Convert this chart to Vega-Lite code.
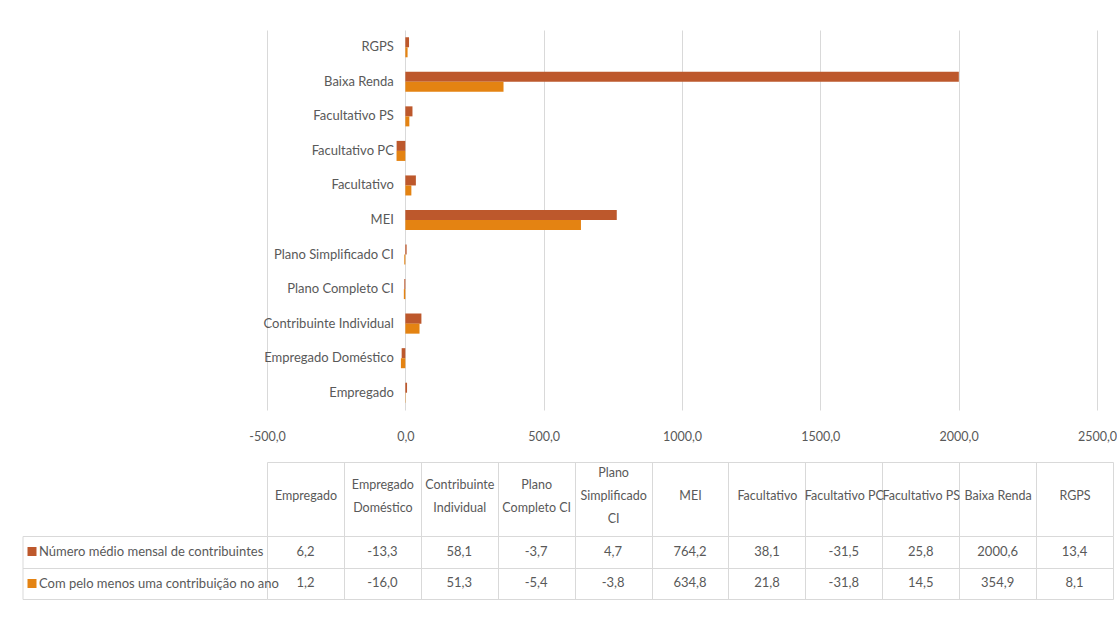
{
  "$schema": "https://vega.github.io/schema/vega-lite/v6.json",
  "background": "white",
  "padding": {"left": 22, "top": 30, "right": 0, "bottom": 0},
  "spacing": 18,
  "datasets": {
    "dados": [
      {"categoria": "Empregado", "serie": "Número médio mensal de contribuintes", "valor": 6.2},
      {"categoria": "Empregado", "serie": "Com pelo menos uma contribuição no ano", "valor": 1.2},
      {"categoria": "Empregado Doméstico", "serie": "Número médio mensal de contribuintes", "valor": -13.3},
      {"categoria": "Empregado Doméstico", "serie": "Com pelo menos uma contribuição no ano", "valor": -16.0},
      {"categoria": "Contribuinte Individual", "serie": "Número médio mensal de contribuintes", "valor": 58.1},
      {"categoria": "Contribuinte Individual", "serie": "Com pelo menos uma contribuição no ano", "valor": 51.3},
      {"categoria": "Plano Completo CI", "serie": "Número médio mensal de contribuintes", "valor": -3.7},
      {"categoria": "Plano Completo CI", "serie": "Com pelo menos uma contribuição no ano", "valor": -5.4},
      {"categoria": "Plano Simplificado CI", "serie": "Número médio mensal de contribuintes", "valor": 4.7},
      {"categoria": "Plano Simplificado CI", "serie": "Com pelo menos uma contribuição no ano", "valor": -3.8},
      {"categoria": "MEI", "serie": "Número médio mensal de contribuintes", "valor": 764.2},
      {"categoria": "MEI", "serie": "Com pelo menos uma contribuição no ano", "valor": 634.8},
      {"categoria": "Facultativo", "serie": "Número médio mensal de contribuintes", "valor": 38.1},
      {"categoria": "Facultativo", "serie": "Com pelo menos uma contribuição no ano", "valor": 21.8},
      {"categoria": "Facultativo PC", "serie": "Número médio mensal de contribuintes", "valor": -31.5},
      {"categoria": "Facultativo PC", "serie": "Com pelo menos uma contribuição no ano", "valor": -31.8},
      {"categoria": "Facultativo PS", "serie": "Número médio mensal de contribuintes", "valor": 25.8},
      {"categoria": "Facultativo PS", "serie": "Com pelo menos uma contribuição no ano", "valor": 14.5},
      {"categoria": "Baixa Renda", "serie": "Número médio mensal de contribuintes", "valor": 2000.6},
      {"categoria": "Baixa Renda", "serie": "Com pelo menos uma contribuição no ano", "valor": 354.9},
      {"categoria": "RGPS", "serie": "Número médio mensal de contribuintes", "valor": 13.4},
      {"categoria": "RGPS", "serie": "Com pelo menos uma contribuição no ano", "valor": 8.1}
    ]
  },
  "vconcat": [
    {
      "width": 830,
      "height": 380,
      "data": {"name": "dados"},
      "mark": {"type": "bar"},
      "encoding": {
        "y": {
          "field": "categoria", "type": "nominal",
          "sort": ["RGPS", "Baixa Renda", "Facultativo PS", "Facultativo PC", "Facultativo", "MEI", "Plano Simplificado CI", "Plano Completo CI", "Contribuinte Individual", "Empregado Doméstico", "Empregado"],
          "scale": {"paddingInner": 0.42, "paddingOuter": 0.21},
          "axis": {"title": null, "domain": false, "ticks": false, "grid": false, "offset": -138.33, "labelPadding": 12, "labelFontSize": 13, "labelLimit": 300}
        },
        "yOffset": {
          "field": "serie", "type": "nominal",
          "sort": ["Número médio mensal de contribuintes", "Com pelo menos uma contribuição no ano"],
          "scale": {"paddingInner": 0, "paddingOuter": 0}
        },
        "x": {
          "field": "valor", "type": "quantitative",
          "scale": {"domain": [-500, 2500], "nice": false, "zero": false},
          "axis": {"title": null, "values": [-500, 0, 500, 1000, 1500, 2000, 2500], "format": ".1f", "grid": true, "domain": false, "ticks": false, "labelPadding": 20, "labelFontSize": 12.5, "labelFlush": false}
        },
        "color": {
          "field": "serie", "type": "nominal",
          "scale": {"domain": ["Número médio mensal de contribuintes", "Com pelo menos uma contribuição no ano"], "range": ["#BD582C", "#E48312"]},
          "legend": null
        }
      }
    },
    {
      "width": 846,
      "height": 63,
      "data": {"name": "dados"},
      "layer": [
        {
          "mark": {"type": "text", "fontSize": 13, "color": "#595959", "baseline": "middle"},
          "encoding": {
            "x": {
              "field": "categoria", "type": "nominal",
              "sort": ["Empregado", "Empregado Doméstico", "Contribuinte Individual", "Plano Completo CI", "Plano Simplificado CI", "MEI", "Facultativo", "Facultativo PC", "Facultativo PS", "Baixa Renda", "RGPS"],
              "scale": {"paddingInner": 0, "paddingOuter": 0},
              "axis": {
                "title": null, "orient": "top", "offset": 74, "tickSize": -74, "tickBand": "extent",
                "grid": true, "domain": true, "labelAngle": 0, "labelPadding": 51.5,
                "labelBaseline": {
                  "condition": [
                    {"test": "datum.value == 'Plano Simplificado CI'", "value": "line-bottom"},
                    {"test": "indexof(['Empregado Doméstico', 'Contribuinte Individual', 'Plano Completo CI'], datum.value) >= 0", "value": "middle"}
                  ],
                  "value": "line-top"
                },
                "labelFontSize": 12.5, "labelLineHeight": 23, "labelLimit": 200,
                "labelExpr": "datum.label == 'Plano Completo CI' ? ['Plano', 'Completo CI'] : datum.label == 'Plano Simplificado CI' ? ['Plano', 'Simplificado', 'CI'] : (datum.label == 'Empregado Doméstico' || datum.label == 'Contribuinte Individual') ? split(datum.label, ' ') : datum.label"
              }
            },
            "y": {
              "field": "serie", "type": "nominal",
              "sort": ["Número médio mensal de contribuintes", "Com pelo menos uma contribuição no ano"],
              "scale": {"paddingInner": 0, "paddingOuter": 0},
              "axis": {
                "title": null, "orient": "left", "offset": 244.5, "tickSize": -244.5, "tickBand": "extent",
                "grid": true, "domain": true, "labelAlign": "left", "labelPadding": 228.5, "labelBaseline": "middle",
                "labelFontSize": 13, "labelLimit": 300
              }
            },
            "text": {"field": "valor", "type": "quantitative", "format": ".1f"}
          }
        },
        {
          "mark": {"type": "text", "text": ""},
          "encoding": {
            "y": {
              "field": "serie", "type": "nominal",
              "sort": ["Número médio mensal de contribuintes", "Com pelo menos uma contribuição no ano"],
              "axis": {
                "title": null, "orient": "left", "offset": 231, "tickSize": 9, "tickWidth": 9,
                "tickColor": {"condition": {"test": "datum.value == 'Número médio mensal de contribuintes'", "value": "#BD582C"}, "value": "#E48312"},
                "domain": false, "labels": false, "grid": false
              }
            }
          }
        }
      ],
      "resolve": {"axis": {"y": "independent"}}
    }
  ],
  "config": {
    "locale": {"number": {"decimal": ",", "thousands": ".", "grouping": [3], "currency": ["", ""], "minus": "-"}},
    "view": {"stroke": null},
    "font": "Lato",
    "axis": {"labelFont": "Lato", "labelColor": "#595959", "gridColor": "#D9D9D9", "domainColor": "#D9D9D9", "tickColor": "#D9D9D9"},
    "text": {"font": "Lato"}
  }
}
